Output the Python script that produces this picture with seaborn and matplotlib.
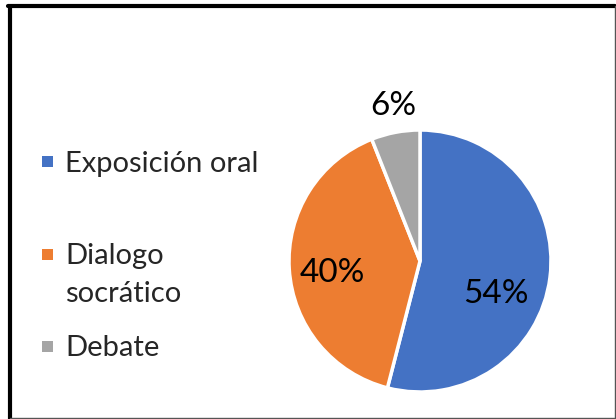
import matplotlib.pyplot as plt
import seaborn as sns
from matplotlib.lines import Line2D
from matplotlib.patches import Rectangle

# datos
categorias = ["Exposición oral", "Dialogo\nsocrático", "Debate"]
porcentajes = [54, 40, 6]
colores = ["#4472C4", "#ED7D31", "#A5A5A5"]

sns.set_style("white")
plt.rcParams['font.family'] = ['Lato', 'DejaVu Sans']

fig = plt.figure(figsize=(6.16, 4.19), dpi=100)

# pie
ax = fig.add_axes([(420 - 131) / 616, 1 - (261 + 131) / 419, 262 / 616, 262 / 419])
wedges, textos, autotextos = ax.pie(
    porcentajes, colors=colores, startangle=90, counterclock=False,
    autopct="%d%%", pctdistance=0.6,
    wedgeprops=dict(edgecolor="white", linewidth=2.5))
ax.set_xlim(-1, 1)
ax.set_ylim(-1, 1)
ax.set_aspect("equal")

# posiciones de las etiquetas
pos = [(0.58, -0.25), (-0.67, -0.09), (-0.2, 1.18)]
for t, p in zip(autotextos, pos):
    t.set_position(p)
    t.set_fontsize(24)
    t.set_color("black")

# leyenda manual
ys = [162, 254, 346]
for nombre, c, y in zip(categorias, colores, ys):
    yf = 1 - y / 419
    fig.patches.append(Rectangle((42 / 616, yf - 5.5 / 419), 11 / 616, 11 / 419,
                                 transform=fig.transFigure, facecolor=c,
                                 edgecolor="none"))
    fig.text(65 / 616, yf + 11 / 419, nombre, fontsize=21, va="top",
             ha="left", linespacing=1.55)

# marco
fig.add_artist(Line2D([10 / 616, 10 / 616], [0, 1 - 6 / 419], color="black",
                      linewidth=3, transform=fig.transFigure))
fig.add_artist(Line2D([8 / 616, 615 / 616], [1 - 6 / 419, 1 - 6 / 419],
                      color="black", linewidth=3, transform=fig.transFigure))
fig.add_artist(Line2D([615 / 616, 615 / 616], [0, 1 - 6 / 419], color="#555555",
                      linewidth=1, transform=fig.transFigure))
fig.add_artist(Line2D([10 / 616, 615 / 616], [1 / 419, 1 / 419], color="#555555",
                      linewidth=1, transform=fig.transFigure))

fig.savefig("out.png", dpi=100)
